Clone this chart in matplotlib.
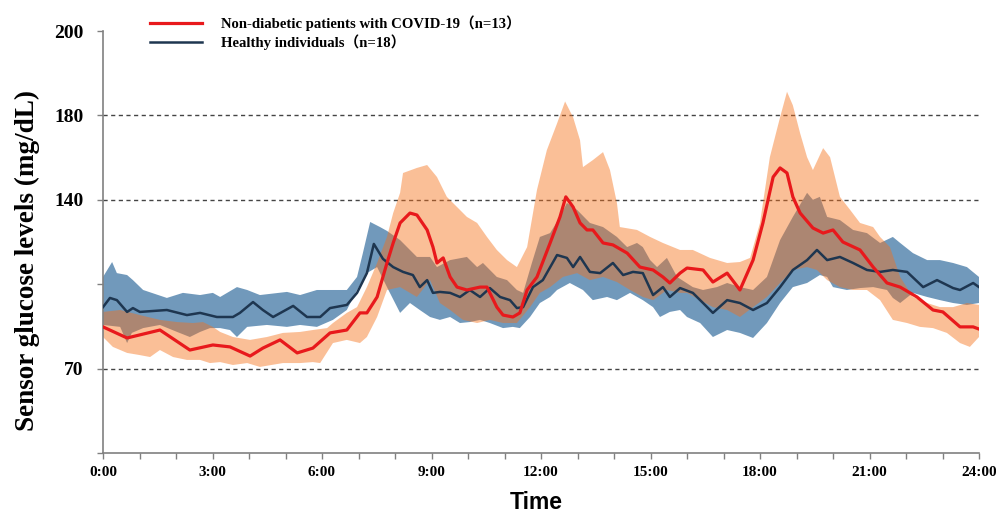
import numpy as np
import matplotlib
matplotlib.use('Agg')
import matplotlib.pyplot as plt

# time of day in hours, glucose in mg/dL
covid_t = [0, 0.66, 1.56, 2.38, 3.01, 3.48, 4.03, 4.38, 4.85, 5.32, 5.75, 6.22, 6.68, 7.04, 7.23,
           7.51, 7.78, 7.95, 8.14, 8.41, 8.60, 8.88, 9.04, 9.15, 9.32, 9.51, 9.70, 9.97, 10.33,
           10.52, 10.79, 10.96, 11.23, 11.42, 11.62, 11.89, 12.25, 12.52, 12.68, 12.88, 13.07,
           13.26, 13.42, 13.70, 13.97, 14.36, 14.71, 15.07, 15.34, 15.53, 15.81, 16.00, 16.44,
           16.71, 17.10, 17.45, 17.81, 18.08, 18.36, 18.55, 18.74, 18.90, 19.10, 19.45, 19.73,
           20.00, 20.27, 20.74, 21.10, 21.48, 21.84, 22.30, 22.74, 23.01, 23.48, 23.84, 24.0]
covid_mean = [87.3, 82.7, 86.0, 77.7, 79.8, 79.0, 75.2, 78.5, 81.9, 76.5, 78.5, 84.8, 86.0, 93.1, 93.1,
              99.7, 113.8, 122.1, 130.4, 134.5, 133.7, 127.5, 120.4, 113.8, 115.9, 108.0, 103.8, 102.6, 103.8,
              103.8, 95.5, 92.2, 91.4, 93.1, 102.6, 108.0, 122.1, 132.9, 141.4, 137.0, 130.4,
              127.5, 127.5, 122.1, 121.3, 117.9, 112.1, 110.9, 108.0, 105.5, 109.6, 111.7, 110.9,
              105.9, 109.6, 102.6, 115.0, 130.4, 150.8, 155.1, 152.7, 141.4, 134.5, 128.3, 126.2,
              127.5, 122.5, 119.2, 112.1, 105.5, 103.8, 99.7, 94.3, 93.5, 87.3, 87.3, 86.4]

healthy_t = [0, 0.19, 0.38, 0.66, 0.82, 1.01, 1.75, 2.30, 2.66, 3.12, 3.56, 3.75, 4.11, 4.38, 4.66,
             5.21, 5.59, 5.95, 6.22, 6.68, 6.96, 7.23, 7.42, 7.67, 7.95, 8.22, 8.49, 8.68, 8.88,
             9.04, 9.23, 9.51, 9.78, 10.05, 10.33, 10.60, 10.88, 11.15, 11.34, 11.51, 11.78, 12.05,
             12.44, 12.71, 12.88, 13.07, 13.34, 13.62, 13.97, 14.25, 14.52, 14.79, 15.07, 15.34,
             15.53, 15.81, 16.16, 16.44, 16.71, 17.10, 17.45, 17.81, 18.19, 18.55, 18.90, 19.29,
             19.56, 19.84, 20.19, 20.55, 20.93, 21.29, 21.64, 22.03, 22.47, 22.85, 23.29, 23.48,
             23.84, 24.0]
healthy_mean = [95.5, 99.3, 98.4, 93.5, 95.1, 93.5, 94.3, 92.2, 93.1, 91.4, 91.4, 93.1, 97.6, 94.3, 91.4,
                96.0, 91.4, 91.4, 95.1, 96.4, 101.4, 109.6, 121.7, 115.5, 112.1, 110.1, 108.8, 103.8, 106.7,
                101.4, 101.8, 101.4, 99.7, 102.6, 99.7, 103.4, 99.7, 98.4, 95.1, 95.5, 103.8, 106.7,
                117.1, 115.9, 112.1, 116.3, 110.1, 109.6, 113.8, 108.8, 110.1, 109.6, 100.5, 103.8,
                99.7, 103.4, 101.4, 97.2, 93.1, 98.4, 97.2, 94.3, 97.2, 103.8, 110.9, 115.0,
                119.2, 115.0, 116.3, 113.8, 110.9, 110.1, 110.9, 110.1, 103.8, 106.7, 103.4, 102.6,
                105.5, 103.8]

# shaded ranges
healthy_up_t = [0, 0.25, 0.38, 0.66, 0.82, 1.10, 1.75, 2.19, 2.66, 3.01, 3.21, 3.67, 3.95, 4.30, 5.04,
                5.40, 5.86, 6.30, 6.68, 6.96, 7.12, 7.32, 7.59, 7.78, 8.14, 8.60, 8.96, 9.15, 9.51,
                9.97, 10.25, 10.41, 10.79, 11.07, 11.34, 11.51, 11.75, 11.97, 12.25, 12.52, 12.71,
                12.99, 13.34, 13.70, 14.08, 14.36, 14.63, 14.79, 14.99, 15.18, 15.45, 15.73, 16.16,
                16.44, 16.82, 17.10, 17.45, 17.81, 18.19, 18.55, 18.90, 19.29, 19.45, 19.64, 19.84,
                20.19, 20.55, 20.93, 21.29, 21.64, 21.84, 22.19, 22.58, 22.93, 23.29, 23.67, 24.0]
healthy_up = [108.0, 114.2, 109.6, 108.8, 106.7, 102.6, 99.3, 101.4, 100.5, 101.4, 99.7, 103.8, 102.6, 100.5, 101.8,
              100.5, 102.6, 102.6, 102.6, 108.0, 117.9, 130.8, 128.7, 127.1, 123.3, 116.3, 116.3, 112.1, 115.0,
              116.3, 112.1, 113.8, 108.0, 106.7, 102.6, 101.4, 113.8, 124.6, 126.2, 132.9, 138.7,
              135.8, 130.4, 128.7, 124.6, 120.4, 122.1, 120.4, 115.0, 112.1, 115.9, 108.0, 103.8,
              102.6, 103.8, 105.5, 103.8, 102.6, 108.0, 123.3, 132.9, 143.3, 140.0, 141.4, 132.9,
              131.6, 127.5, 126.2, 122.1, 124.6, 122.1, 117.9, 115.0, 115.0, 113.8, 112.1, 108.0]

healthy_lo_t = [0, 0.47, 0.66, 0.79, 1.10, 1.56, 2.03, 2.38, 2.66, 2.93, 3.21, 3.48, 3.67, 3.95, 4.49,
                5.04, 5.40, 5.86, 6.30, 6.68, 6.96, 7.23, 7.51, 7.78, 8.14, 8.41, 8.68, 8.96, 9.23,
                9.51, 9.78, 10.05, 10.33, 10.60, 10.96, 11.23, 11.42, 11.70, 11.97, 12.25, 12.44,
                12.79, 13.15, 13.42, 13.81, 14.08, 14.44, 14.79, 15.07, 15.26, 15.53, 15.81, 16.00,
                16.36, 16.71, 17.10, 17.45, 17.81, 18.19, 18.55, 18.90, 19.29, 19.64, 19.84, 20.00,
                20.38, 20.74, 21.10, 21.48, 21.64, 21.84, 22.19, 22.58, 22.93, 23.29, 23.67, 24.0]
healthy_lo = [88.1, 87.3, 80.6, 84.8, 86.8, 88.1, 85.2, 83.1, 85.2, 86.8, 86.8, 86.0, 83.1, 87.3, 88.1,
              87.3, 88.1, 87.3, 90.2, 94.3, 102.6, 109.6, 112.1, 103.8, 93.1, 97.2, 94.3, 91.4, 90.2,
              91.4, 88.9, 89.3, 90.2, 88.9, 86.8, 87.3, 86.8, 91.4, 97.2, 99.7, 102.6,
              105.5, 102.6, 98.4, 99.7, 98.4, 101.4, 98.4, 95.5, 91.4, 93.5, 94.3, 91.4,
              88.9, 83.1, 86.0, 84.8, 82.7, 88.9, 97.2, 103.8, 105.5, 108.8, 108.0, 103.8,
              102.6, 103.4, 103.8, 102.6, 99.3, 97.2, 101.4, 99.7, 98.4, 97.2, 96.4, 97.2]

covid_up_t = [0, 0.47, 1.01, 1.56, 2.03, 2.47, 2.74, 3.01, 3.21, 3.56, 4.03, 4.49, 4.93, 5.40, 5.75,
              6.14, 6.30, 6.68, 6.96, 7.23, 7.51, 7.78, 7.95, 8.14, 8.22, 8.60, 8.88, 9.15, 9.42,
              9.70, 9.97, 10.25, 10.52, 10.79, 11.07, 11.34, 11.62, 11.89, 12.16, 12.44, 12.66,
              12.88, 13.07, 13.15, 13.42, 13.70, 13.89, 14.08, 14.16, 14.63, 14.99, 15.34, 15.81,
              16.16, 16.63, 17.10, 17.45, 17.73, 18.00, 18.27, 18.55, 18.74, 18.90, 19.10, 19.29,
              19.45, 19.73, 19.92, 20.19, 20.47, 20.74, 21.10, 21.29, 21.56, 21.84, 22.19, 22.58,
              22.93, 23.29, 23.67, 24.0]
covid_up = [93.5, 94.3, 92.2, 90.2, 89.3, 88.9, 89.3, 87.3, 85.2, 83.1, 81.9, 83.1, 84.8, 85.2, 86.0,
            86.8, 88.9, 93.1, 95.5, 103.8, 113.8, 124.6, 134.5, 143.3, 152.7, 155.1, 156.5, 150.8, 141.4,
            137.0, 132.9, 130.4, 124.6, 119.2, 115.0, 112.1, 120.4, 144.7, 163.5, 176.2, 183.3,
            179.1, 168.2, 155.5, 158.8, 162.6, 154.1, 138.7, 128.7, 127.5, 124.6, 122.1, 119.2,
            119.2, 115.9, 113.8, 114.2, 115.9, 130.4, 160.2, 179.1, 185.6, 182.4, 171.5, 160.2,
            154.1, 164.5, 160.2, 141.4, 135.8, 130.4, 128.7, 124.6, 120.4, 108.0, 99.7, 97.2,
            95.5, 95.5, 97.2, 96.4]

covid_lo_t = [0, 0.27, 0.66, 1.01, 1.29, 1.56, 1.92, 2.30, 2.66, 2.93, 3.21, 3.56, 3.95, 4.30, 4.93,
              5.40, 5.75, 5.95, 6.30, 6.68, 7.04, 7.23, 7.51, 7.78, 8.14, 8.60, 8.96, 9.23, 9.51,
              9.86, 10.25, 10.60, 10.96, 11.34, 11.70, 11.97, 12.25, 12.60, 12.99, 13.34, 13.70,
              14.08, 14.44, 14.79, 15.07, 15.45, 15.81, 16.00, 16.36, 16.71, 17.10, 17.45, 17.81,
              18.19, 18.55, 18.90, 19.29, 19.56, 19.84, 20.19, 20.55, 20.93, 21.29, 21.64, 22.03,
              22.38, 22.74, 23.12, 23.48, 23.75, 24.0]
covid_lo = [83.1, 79.0, 76.5, 75.6, 74.8, 77.7, 74.8, 73.6, 73.6, 72.3, 72.7, 71.5, 72.3, 70.7, 72.3,
            72.3, 72.7, 72.3, 80.6, 81.9, 80.6, 83.1, 91.4, 102.6, 103.8, 99.7, 106.7, 97.2, 94.3,
            90.2, 88.9, 90.2, 88.9, 88.9, 95.5, 101.4, 103.8, 108.0, 109.6, 106.7, 108.0,
            105.9, 102.6, 99.7, 98.4, 102.6, 101.4, 101.4, 98.4, 95.5, 94.3, 91.4, 95.5,
            99.7, 105.5, 110.9, 112.1, 110.9, 106.7, 103.8, 102.6, 102.6, 98.4, 90.2, 88.9,
            87.3, 86.8, 84.8, 80.6, 79.0, 83.1]

y_ticks = [35, 70, 105, 140, 180, 200]
y_tick_labels = ['', '70', '', '140', '180', '200']
grid_levels = [70, 140, 180]
labels = ['Non-diabetic patients with COVID-19（n=13）', 'Healthy individuals（n=18）']

# the published axis spaces its ticks evenly although the steps differ
tick_pos = np.arange(len(y_ticks), dtype=float)


def fwd(v):
    return np.interp(v, y_ticks, tick_pos)


def inv(p):
    return np.interp(p, tick_pos, y_ticks)


serif = ['Liberation Serif', 'Noto Sans CJK SC']

fig = plt.figure(figsize=(9.96, 5.14), dpi=100)
ax = fig.add_axes([103 / 996, 1 - 453 / 514, 876 / 996, 422 / 514])
ax.set_yscale('function', functions=(fwd, inv))

ax.fill(np.concatenate([healthy_up_t, healthy_lo_t[::-1]]),
        np.concatenate([healthy_up, healthy_lo[::-1]]),
        color='#7199bb', lw=0, zorder=1)
ax.fill(np.concatenate([covid_up_t, covid_lo_t[::-1]]),
        np.concatenate([covid_up, covid_lo[::-1]]),
        color='#f6711a', alpha=0.45, lw=0, zorder=2)

for g in grid_levels:
    ax.axhline(g, color='#444444', lw=1.0, ls=(0, (3, 2.5)), zorder=0)

l1, = ax.plot(covid_t, covid_mean, color='#e8191c', lw=2.3, zorder=4)
l2, = ax.plot(healthy_t, healthy_mean, color='#1e3650', lw=1.8, zorder=3)

ax.set_xlim(0, 24)
ax.set_ylim(35, 200)
ax.set_yticks(y_ticks)
ax.set_yticklabels(y_tick_labels, family=serif, fontweight='bold', fontsize=14)
hours = np.arange(0, 25)
ax.set_xticks(hours)
ax.set_xticklabels([f'{h}:00' if h % 3 == 0 else '' for h in hours],
                   family=serif, fontweight='bold', fontsize=11)
ax.minorticks_off()
ax.tick_params(axis='y', length=4, width=1, color='#808080', pad=10)
ax.tick_params(axis='x', length=4, width=1, color='#808080', pad=5)

for s in ['top', 'right']:
    ax.spines[s].set_visible(False)
for s in ['left', 'bottom']:
    ax.spines[s].set_color('#808080')
    ax.spines[s].set_linewidth(1.2)

ax.set_xlabel('Time', family='Liberation Sans', fontweight='bold', fontsize=16.5, va='baseline')
ax.xaxis.set_label_coords(0.495, -0.133)
ax.set_ylabel('Sensor glucose levels (mg/dL)', family=serif, fontweight='bold', fontsize=19.5)
ax.yaxis.set_label_coords(-0.072, 0.457)

fig.legend([l1, l2], labels, loc='upper left', bbox_to_anchor=(150 / 996, 1 - 15 / 514),
           frameon=False, borderpad=0, borderaxespad=0, handlelength=3.5, handletextpad=1.3,
           labelspacing=0.25, prop={'family': serif, 'weight': 'bold', 'size': 10.6})

fig.savefig('out.png', dpi=100)
